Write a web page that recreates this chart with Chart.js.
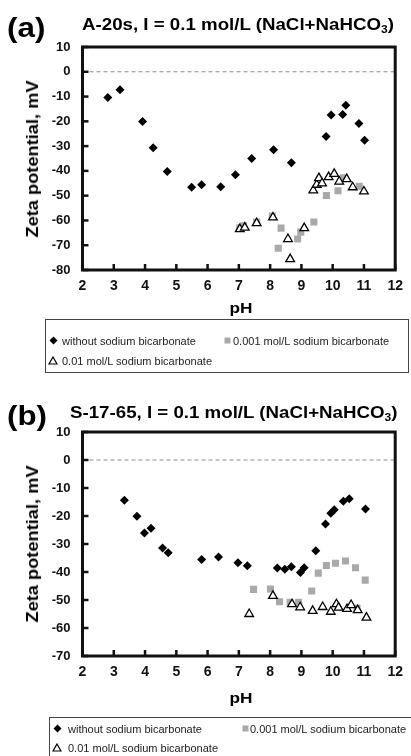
<!DOCTYPE html>
<html>
<head>
<meta charset="utf-8">
<title>Zeta potential vs pH</title>
<script src="https://cdn.jsdelivr.net/npm/chart.js@4.4.1/dist/chart.umd.min.js"></script>
<style>
  body { margin: 0; background: #fff; font-family: 'Liberation Sans', Arial, sans-serif; }
  #page { position: relative; width: 411px; height: 756px; overflow: hidden; }
  .panel { position: absolute; left: 0; width: 411px; height: 378px; }
  .panel canvas { position: absolute; left: 0; top: 0; }
  .tag { position: absolute; left: 7px; font-size: 28px; font-weight: bold; line-height: 28px; transform: scaleX(1.12); transform-origin: left; }
  .title { position: absolute; font-size: 17px; font-weight: bold; line-height: 17px; white-space: nowrap; transform: scaleX(1.1); transform-origin: left; }
  .title sub { font-size: 11px; line-height: 0; vertical-align: -3px; }
  .ytitle { position: absolute; left: 33px; font-size: 16px; font-weight: bold; line-height: 16px; white-space: nowrap; transform: translate(-50%, -50%) rotate(-90deg) scaleX(1.14); }
  .xtitle { position: absolute; left: 241px; font-size: 15px; font-weight: bold; line-height: 15px; transform: translate(-50%, -50%) scaleX(1.15); }
  .legend { position: absolute; border: 1px solid #444; background: #fff; font-size: 11px; color: #222; }
  .legend .item { position: absolute; white-space: nowrap; line-height: 12px; }
  .legend svg { position: absolute; }
</style>
</head>
<body>
<div id="page">
  <div class="panel" style="top:0">
    <canvas id="chart-a" width="411" height="378"></canvas>
    <div class="tag" style="top:14px">(a)</div>
    <div class="title" style="left:82px; top:16px">A-20s, I = 0.1 mol/L (NaCl+NaHCO<sub>3</sub>)</div>
    <div class="ytitle" style="top:159px">Zeta potential, mV</div>
    <div class="xtitle" style="top:307px">pH</div>
    <div class="legend" style="left:45px; top:319px; width:362px; height:52px">
      <svg width="9" height="9" style="left:3px; top:16px"><polygon points="4.5,0.5 8.5,4.5 4.5,8.5 0.5,4.5" fill="#000"/></svg>
      <div class="item" style="left:16px; top:15px">without sodium bicarbonate</div>
      <svg width="7" height="7" style="left:178px; top:17px"><rect x="0.5" y="0.5" width="6" height="6" fill="#a9a9a9"/></svg>
      <div class="item" style="left:187px; top:15px">0.001 mol/L sodium bicarbonate</div>
      <svg width="10" height="9" style="left:2px; top:36px"><polygon points="5,1 9,8 1,8" fill="#fff" stroke="#000" stroke-width="1.2"/></svg>
      <div class="item" style="left:16px; top:35px">0.01 mol/L sodium bicarbonate</div>
    </div>
  </div>
  <div class="panel" style="top:378px">
    <canvas id="chart-b" width="411" height="378"></canvas>
    <div class="tag" style="top:24px">(b)</div>
    <div class="title" style="left:70px; top:26px">S-17-65, I = 0.1 mol/L (NaCl+NaHCO<sub>3</sub>)</div>
    <div class="ytitle" style="top:166px">Zeta potential, mV</div>
    <div class="xtitle" style="top:319px">pH</div>
    <div class="legend" style="left:49px; top:339px; width:370px; height:60px">
      <svg width="9" height="9" style="left:3px; top:6px"><polygon points="4.5,0.5 8.5,4.5 4.5,8.5 0.5,4.5" fill="#000"/></svg>
      <div class="item" style="left:18px; top:5px">without sodium bicarbonate</div>
      <svg width="7" height="7" style="left:192px; top:7px"><rect x="0.5" y="0.5" width="6" height="6" fill="#a9a9a9"/></svg>
      <div class="item" style="left:200px; top:5px">0.001 mol/L sodium bicarbonate</div>
      <svg width="10" height="9" style="left:2px; top:25px"><polygon points="5,1 9,8 1,8" fill="#fff" stroke="#000" stroke-width="1.2"/></svg>
      <div class="item" style="left:18px; top:24px">0.01 mol/L sodium bicarbonate</div>
    </div>
  </div>
</div>
<script>
// (a) A-20s
const aWithoutPH   = [2.81, 3.2, 3.92, 4.26, 4.71, 5.49, 5.81, 6.42, 6.89, 7.41, 8.11, 8.68, 9.79, 9.95, 10.32, 10.42, 10.84, 11.02];
const aWithoutZeta = [-10.4, -7.3, -20.1, -30.7, -40.2, -46.6, -45.6, -46.4, -41.6, -35.0, -31.5, -36.7, -26.1, -17.4, -17.2, -13.5, -20.9, -27.6];
const aLowPH   = [7.03, 7.15, 7.57, 8.07, 8.26, 8.35, 8.88, 8.98, 9.40, 9.80, 10.17, 10.35, 10.85];
const aLowZeta = [-63.0, -62.2, -60.6, -58.2, -71.2, -63.1, -67.5, -64.7, -60.6, -49.9, -48.0, -42.8, -46.2];
const aHighPH   = [7.03, 7.19, 7.57, 8.09, 8.57, 8.64, 9.09, 9.38, 9.49, 9.56, 9.66, 9.87, 10.05, 10.21, 10.45, 10.64, 11.0];
const aHighZeta = [-63.5, -62.9, -61.1, -58.8, -67.5, -75.6, -63.1, -47.9, -45.6, -42.9, -45.0, -42.5, -41.2, -44.3, -43.3, -46.6, -48.3];

// (b) S-17-65
const bWithoutPH   = [3.34, 3.74, 3.98, 4.19, 4.56, 4.74, 5.81, 6.35, 6.97, 7.27, 8.23, 8.47, 8.68, 8.97, 9.09, 9.46, 9.77, 9.94, 10.05, 10.34, 10.53, 11.05];
const bWithoutZeta = [-14.4, -20.1, -26.1, -24.4, -31.4, -33.1, -35.5, -34.6, -36.7, -37.8, -38.6, -39.0, -38.1, -40.2, -38.5, -32.4, -22.9, -19.0, -17.8, -14.7, -13.8, -17.5];
const bLowPH   = [7.47, 8.01, 8.30, 8.64, 8.91, 9.33, 9.54, 9.80, 10.09, 10.41, 10.73, 10.78, 11.04];
const bLowZeta = [-46.2, -46.1, -50.6, -50.8, -50.8, -46.8, -40.4, -37.7, -36.9, -36.1, -38.5, -53.0, -42.9];
const bHighPH   = [7.33, 8.09, 8.70, 8.96, 9.36, 9.68, 9.94, 10.12, 10.19, 10.46, 10.59, 10.80, 11.08];
const bHighZeta = [-55.0, -48.5, -51.5, -52.6, -53.9, -52.5, -54.2, -51.5, -52.7, -53.2, -51.8, -53.6, -56.3];

const seriesLabels = ['without sodium bicarbonate', '0.001 mol/L sodium bicarbonate', '0.01 mol/L sodium bicarbonate'];
const FONT = "'Liberation Sans', Arial, sans-serif";

const toPoints = (xs, ys) => xs.map((x, i) => ({ x: x, y: ys[i] }));

// dashed zero line, inward ticks and the heavy frame
const frameAndTicks = {
    id: 'frameAndTicks',
    beforeDatasetsDraw(chart) {
        const { ctx, chartArea, scales } = chart;
        const y0 = scales.y.getPixelForValue(0);
        ctx.save();
        ctx.strokeStyle = '#8a8a8a';
        ctx.lineWidth = 1;
        ctx.setLineDash([4, 3]);
        ctx.beginPath();
        ctx.moveTo(chartArea.left, y0);
        ctx.lineTo(chartArea.right, y0);
        ctx.stroke();
        ctx.restore();
    },
    afterDraw(chart) {
        const { ctx, chartArea, scales } = chart;
        const { left, right, top, bottom } = chartArea;
        ctx.save();
        ctx.strokeStyle = '#111';
        ctx.lineWidth = 2.5;
        scales.x.ticks.forEach(t => {
            const px = scales.x.getPixelForValue(t.value);
            ctx.beginPath();
            ctx.moveTo(px, bottom);
            ctx.lineTo(px, bottom - 6);
            ctx.stroke();
        });
        scales.y.ticks.forEach(t => {
            const py = scales.y.getPixelForValue(t.value);
            ctx.beginPath();
            ctx.moveTo(left, py);
            ctx.lineTo(left + 6, py);
            ctx.stroke();
        });
        ctx.lineWidth = 3;
        ctx.strokeRect(left, top, right - left, bottom - top);
        ctx.restore();
    }
};

function makeChart(id, without, low, high, yMin, plotTop, plotBottom) {
    return new Chart(document.getElementById(id), {
        type: 'scatter',
        data: {
            datasets: [
                {
                    label: seriesLabels[0], data: without, order: 0,
                    pointStyle: 'rectRot', pointRadius: 4.5, pointBorderWidth: 0,
                    pointBackgroundColor: '#000', pointBorderColor: '#000'
                },
                {
                    label: seriesLabels[1], data: low, order: 2,
                    pointStyle: 'rect', pointRadius: 5, pointBorderWidth: 0,
                    pointBackgroundColor: '#a9a9a9', pointBorderColor: '#a9a9a9'
                },
                {
                    label: seriesLabels[2], data: high, order: 1,
                    pointStyle: 'triangle', pointRadius: 5, pointBorderWidth: 1.3,
                    pointBackgroundColor: '#fff', pointBorderColor: '#000'
                }
            ]
        },
        options: {
            responsive: false,
            animation: false,
            devicePixelRatio: 1,
            layout: { padding: { top: plotTop, right: 11, left: 0, bottom: 0 } },
            plugins: { legend: { display: false }, tooltip: { enabled: false } },
            scales: {
                x: {
                    type: 'linear', min: 2, max: 12,
                    ticks: { stepSize: 1, padding: 8, color: '#111', font: { family: FONT, size: 14, weight: 'bold' } },
                    grid: { display: false, drawTicks: false },
                    border: { display: false },
                    afterFit: s => { s.height = 378 - plotBottom; }
                },
                y: {
                    type: 'linear', min: yMin, max: 10,
                    ticks: { stepSize: 10, padding: 12, color: '#111', font: { family: FONT, size: 13, weight: 'bold' } },
                    grid: { display: false, drawTicks: false },
                    border: { display: false },
                    afterFit: s => { s.width = 82.5; }
                }
            }
        },
        plugins: [frameAndTicks]
    });
}

makeChart('chart-a', toPoints(aWithoutPH, aWithoutZeta), toPoints(aLowPH, aLowZeta), toPoints(aHighPH, aHighZeta), -80, 47, 270);
makeChart('chart-b', toPoints(bWithoutPH, bWithoutZeta), toPoints(bLowPH, bLowZeta), toPoints(bHighPH, bHighZeta), -70, 54, 278);
</script>
</body>
</html>
